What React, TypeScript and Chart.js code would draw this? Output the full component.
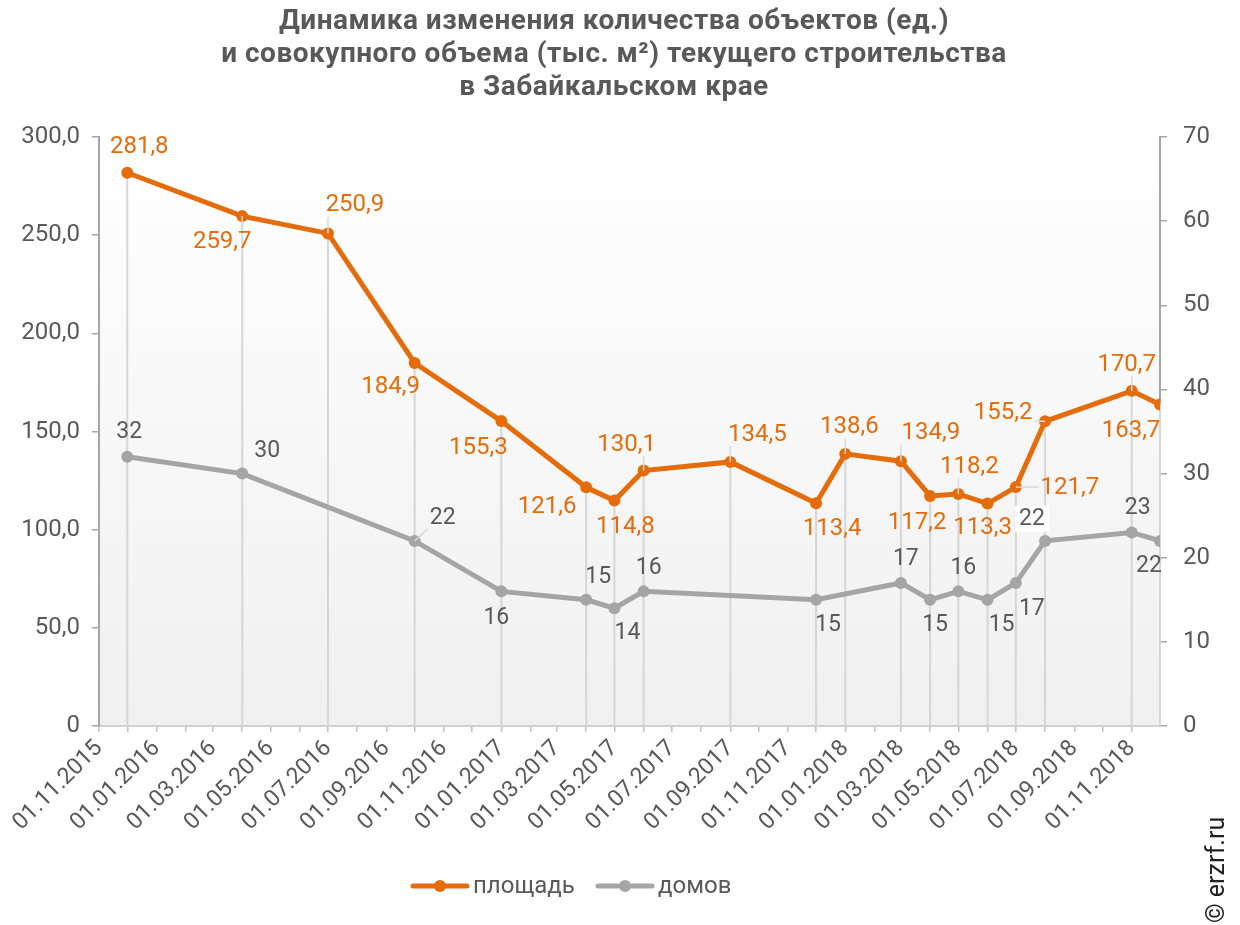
import React, { useEffect, useRef } from 'react';
import { Chart, registerables } from 'chart.js';

Chart.register(...registerables);

const titleLines = [
  'Динамика изменения количества объектов (ед.)',
  'и совокупного объема (тыс. м²) текущего строительства',
  'в Забайкальском крае',
];

const dates = [
  '2015-12-01', '2016-04-01', '2016-07-01', '2016-10-01', '2017-01-01',
  '2017-04-01', '2017-05-01', '2017-06-01', '2017-09-01', '2017-12-01',
  '2018-01-01', '2018-03-01', '2018-04-01', '2018-05-01', '2018-06-01',
  '2018-07-01', '2018-08-01', '2018-11-01', '2018-12-01',
];

const areaValues = [
  281.8, 259.7, 250.9, 184.9, 155.3, 121.6, 114.8, 130.1, 134.5, 113.4,
  138.6, 134.9, 117.2, 118.2, 113.3, 121.7, 155.2, 170.7, 163.7,
];

const houseValues: (number | null)[] = [
  32, 30, null, 22, 16, 15, 14, 16, null, 15,
  null, 17, 15, 16, 15, 17, 22, 23, 22,
];

const xTickLabels = [
  '01.11.2015', '01.01.2016', '01.03.2016', '01.05.2016', '01.07.2016',
  '01.09.2016', '01.11.2016', '01.01.2017', '01.03.2017', '01.05.2017',
  '01.07.2017', '01.09.2017', '01.11.2017', '01.01.2018', '01.03.2018',
  '01.05.2018', '01.07.2018', '01.09.2018', '01.11.2018',
];

const seriesNames = ['площадь', 'домов'];

// label placement (style): [dx, dy] from point, flag (1 leader, 2 white box)
const areaLabelOffsets: [number, number, number][] = [
  [12, -26, 0], [-20, 26, 1], [27, -28, 1], [-24, 24, 0], [-23, 27, 0],
  [-39, 20, 0], [11, 26, 0], [-17, -26, 1], [27, -27, 1], [16, 26, 0],
  [4, -27, 1], [30, -28, 1], [-13, 27, 0], [11, -27, 1], [-5, 24, 0],
  [54, 1, 1], [-42, -8, 1], [-5, -26, 1], [-29, 26, 0],
];
const houseLabelOffsets: [number, number, number][] = [
  [2, -24, 0], [25, -22, 0], [0, 0, 0], [28, -23, 1], [-5, 27, 0],
  [12, -23, 0], [13, 25, 0], [5, -23, 0], [0, 0, 0], [12, 25, 0],
  [0, 0, 0], [5, -24, 0], [5, 25, 0], [5, -23, 0], [14, 25, 0],
  [16, 26, 0], [-13, -22, 2], [6, -24, 0], [-11, 25, 0],
];

const ORANGE = '#E46C0A';
const GRAY = '#A5A5A5';
const TEXT = '#595959';
const FONT = 'Roboto, "DejaVu Sans", sans-serif';

const toDay = (s: string) => {
  const [y, m, d] = s.split('-').map(Number);
  return Date.UTC(y, m - 1, d) / 864e5;
};
const fromRu = (s: string) => {
  const [d, m, y] = s.split('.').map(Number);
  return Date.UTC(y, m - 1, d) / 864e5;
};

const X_MIN = toDay('2015-11-01');
const X_MAX = toDay('2018-12-01');

export default function App() {
  const ref = useRef<HTMLCanvasElement | null>(null);

  useEffect(() => {
    if (!ref.current) return;
    const xs = dates.map(toDay);
    const labelMap = new Map<number, string>();
    xTickLabels.forEach((l) => labelMap.set(fromRu(l), l));
    const monthTicks: number[] = [];
    for (let y = 2015, m = 10; ; ) {
      const v = Date.UTC(y, m, 1) / 864e5;
      if (v >= X_MAX) break;
      monthTicks.push(v);
      m++;
      if (m > 11) { m = 0; y++; }
    }

    const bgPlugin = {
      id: 'bg',
      beforeDraw(chart: any) {
        const { ctx, chartArea: a } = chart;
        ctx.save();
        ctx.fillStyle = '#ffffff';
        ctx.fillRect(0, 0, chart.width, chart.height);
        const g = ctx.createLinearGradient(0, a.top, 0, a.bottom);
        g.addColorStop(0, '#ffffff');
        g.addColorStop(1, '#f0f0f0');
        ctx.fillStyle = g;
        ctx.fillRect(a.left, a.top, a.right - a.left, a.bottom - a.top);
        ctx.restore();
      },
      beforeDatasetsDraw(chart: any) {
        const { ctx, chartArea: a, scales } = chart;
        ctx.save();
        ctx.strokeStyle = '#d6d6d6';
        ctx.lineWidth = 2;
        xs.forEach((x, i) => {
          const px = scales.x.getPixelForValue(x);
          let top = scales.y.getPixelForValue(areaValues[i]);
          const h = houseValues[i];
          if (h !== null) top = Math.min(top, scales.y1.getPixelForValue(h));
          ctx.beginPath();
          ctx.moveTo(px, a.bottom);
          ctx.lineTo(px, top);
          ctx.stroke();
        });
        ctx.restore();
      },
      afterDatasetsDraw(chart: any) {
        const { ctx, scales } = chart;
        const drawLabels = (
          vals: (number | null)[],
          offs: [number, number, number][],
          yScale: any,
          color: string,
          size: number,
          fmt: (v: number) => string
        ) => {
          ctx.save();
          ctx.font = `${size}px ${FONT}`;
          ctx.textAlign = 'center';
          ctx.textBaseline = 'middle';
          vals.forEach((v, i) => {
            if (v === null) return;
            const px = scales.x.getPixelForValue(xs[i]);
            const py = yScale.getPixelForValue(v);
            const [dx, dy, flag] = offs[i];
            const cx = px + dx;
            const cy = py + dy;
            const text = fmt(v);
            const w = ctx.measureText(text).width;
            const h = size * 0.8;
            if (flag === 2) {
              ctx.fillStyle = '#ffffff';
              ctx.fillRect(cx - w / 2 - 4, cy - h / 2 - 4, w + 8, h + 8);
            }
            if (flag === 1) {
              const l = cx - w / 2 - 2, r = cx + w / 2 + 2;
              const t = cy - h / 2 - 2, b = cy + h / 2 + 2;
              const tx = Math.max(l, Math.min(px, r));
              const ty = Math.max(t, Math.min(py, b));
              if (Math.hypot(tx - px, ty - py) > 8) {
                ctx.strokeStyle = '#d9d9d9';
                ctx.lineWidth = 1.5;
                ctx.beginPath();
                ctx.moveTo(px, py);
                ctx.lineTo(tx, ty);
                ctx.stroke();
              }
            }
            ctx.fillStyle = color;
            ctx.fillText(text, cx, cy);
          });
          ctx.restore();
        };
        drawLabels(houseValues, houseLabelOffsets, scales.y1, TEXT, 23, (v) => String(v));
        drawLabels(areaValues, areaLabelOffsets, scales.y, ORANGE, 24, (v) => v.toFixed(1).replace('.', ','));
      },
      afterDraw(chart: any) {
        const { ctx } = chart;
        ctx.save();
        // title
        ctx.fillStyle = TEXT;
        ctx.font = `bold 28px ${FONT}`;
        try { (ctx as any).letterSpacing = '0.5px'; } catch (e) {}
        ctx.textAlign = 'center';
        ctx.textBaseline = 'middle';
        titleLines.forEach((t, i) => ctx.fillText(t, 614, 22 + i * 33));
        try { (ctx as any).letterSpacing = '0px'; } catch (e) {}
        // legend
        const items = [
          { x: 413, color: ORANGE, name: seriesNames[0] },
          { x: 598, color: GRAY, name: seriesNames[1] },
        ];
        const ly = 886;
        items.forEach((it) => {
          ctx.strokeStyle = it.color;
          ctx.lineWidth = 5;
          ctx.lineCap = 'round';
          ctx.beginPath();
          ctx.moveTo(it.x, ly);
          ctx.lineTo(it.x + 54, ly);
          ctx.stroke();
          ctx.fillStyle = it.color;
          ctx.beginPath();
          ctx.arc(it.x + 27, ly, 6, 0, Math.PI * 2);
          ctx.fill();
          ctx.fillStyle = TEXT;
          ctx.font = `24px ${FONT}`;
          ctx.textAlign = 'left';
          ctx.fillText(it.name, it.x + 60, ly + 1);
        });
        // watermark
        ctx.translate(1218, 923);
        ctx.rotate(-Math.PI / 2);
        ctx.fillStyle = '#222222';
        ctx.font = `25px ${FONT}`;
        ctx.textAlign = 'left';
        ctx.textBaseline = 'middle';
        ctx.fillText('© erzrf.ru', 0, 0);
        ctx.restore();
      },
    };

    const chart = new Chart(ref.current, {
      type: 'line',
      data: {
        datasets: [
          {
            label: seriesNames[0],
            data: xs.map((x, i) => ({ x, y: areaValues[i] })),
            yAxisID: 'y',
            borderColor: ORANGE,
            backgroundColor: ORANGE,
            borderWidth: 5,
            pointRadius: 6,
            pointBorderWidth: 0,
            pointBackgroundColor: ORANGE,
            tension: 0,
          },
          {
            label: seriesNames[1],
            data: xs.map((x, i) => ({ x, y: houseValues[i] })) as any,
            yAxisID: 'y1',
            borderColor: GRAY,
            backgroundColor: GRAY,
            borderWidth: 5,
            pointRadius: 6,
            pointBorderWidth: 0,
            pointBackgroundColor: GRAY,
            spanGaps: true,
            tension: 0,
          },
        ],
      },
      options: {
        animation: false,
        responsive: false,
        maintainAspectRatio: false,
        layout: { padding: { top: 137, left: 0, right: 0, bottom: 0 } },
        plugins: {
          legend: { display: false },
          title: { display: false },
          tooltip: { enabled: false },
        },
        scales: {
          x: {
            type: 'linear',
            min: X_MIN,
            max: X_MAX,
            afterBuildTicks(scale: any) {
              scale.ticks = monthTicks.map((v) => ({ value: v }));
            },
            afterFit(scale: any) {
              scale.height = 199;
              scale.paddingLeft = 0;
              scale.paddingRight = 0;
            },
            grid: {
              drawOnChartArea: false,
              drawTicks: true,
              tickLength: 6,
              color: '#bfbfbf',
              lineWidth: 1.5,
            },
            border: { display: true, color: '#d0d0d0', width: 2 },
            ticks: {
              autoSkip: false,
              maxRotation: 45,
              minRotation: 45,
              padding: 3,
              color: TEXT,
              font: { family: FONT, size: 23 },
              callback: (v: any) => labelMap.get(Number(v)) ?? '',
            },
          },
          y: {
            type: 'linear',
            position: 'left',
            min: 0,
            max: 300,
            afterFit(scale: any) {
              scale.width = 99;
            },
            grid: { drawOnChartArea: false, drawTicks: true, tickLength: 7, color: '#a6a6a6', lineWidth: 1.5 },
            border: { display: true, color: '#a6a6a6', width: 2 },
            ticks: {
              stepSize: 50,
              padding: 12,
              color: TEXT,
              font: { family: FONT, size: 24 },
              callback: (v: any) => (Number(v) === 0 ? '0' : Number(v).toFixed(1).replace('.', ',')),
            },
          },
          y1: {
            type: 'linear',
            position: 'right',
            min: 0,
            max: 70,
            afterFit(scale: any) {
              scale.width = 80;
            },
            grid: { drawOnChartArea: false, drawTicks: true, tickLength: 7, color: '#a6a6a6', lineWidth: 1.5 },
            border: { display: true, color: '#a6a6a6', width: 2 },
            ticks: {
              stepSize: 10,
              padding: 16,
              color: TEXT,
              font: { family: FONT, size: 24 },
              callback: (v: any) => String(v),
            },
          },
        },
      },
      plugins: [bgPlugin],
    });
    return () => chart.destroy();
  }, []);

  return (
    <div style={{ position: 'absolute', left: 0, top: 0, width: 1240, height: 925 }}>
      <canvas ref={ref} width={1240} height={925} style={{ width: 1240, height: 925, display: 'block' }} />
    </div>
  );
}
